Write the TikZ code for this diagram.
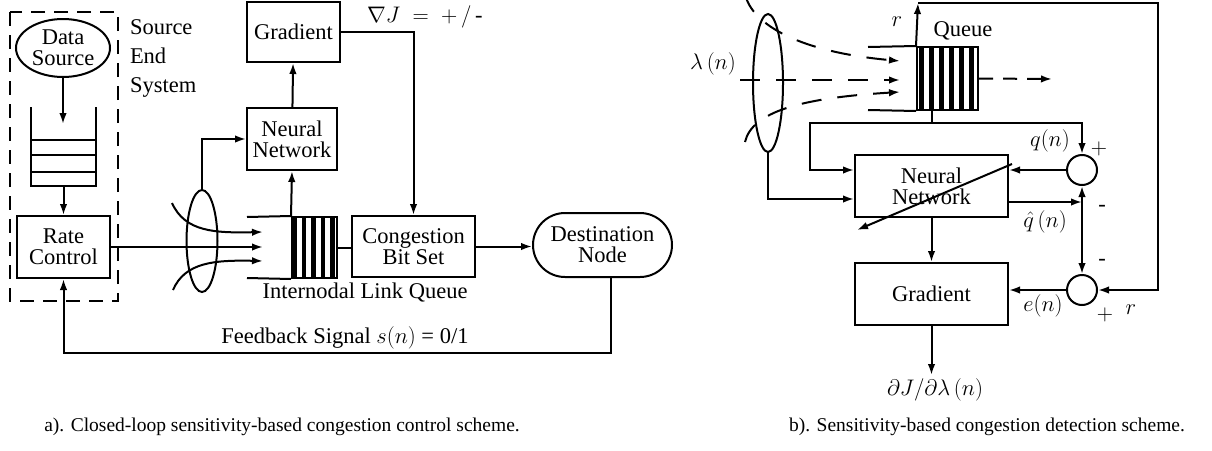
\RequirePackage{fix-cm}
\documentclass[tikz,border=0pt]{standalone}
\usepackage{fontspec}
\setmainfont{Liberation Serif}
\usetikzlibrary{arrows.meta,shapes.geometric,shapes.misc,calc}
\newcommand\lblfont{\fontsize{22.5}{21}\selectfont}
\newcommand\capfont{\fontsize{19.5}{22}\selectfont}
\begin{document}
\begin{tikzpicture}[x=1pt,y=-1pt,line width=2pt,>={Latex[length=11pt,width=7.5pt]},
 box/.style={draw,rectangle,inner sep=0pt,align=center,font=\lblfont},
 txt/.style={inner sep=0pt,font=\lblfont},
 bar/.style={line width=4.4pt},
 dsh/.style={dash pattern=on 20pt off 16pt}]
\useasboundingbox (0,0) rectangle (1212,450);

% ---------------- panel a ----------------
\draw[line width=2.4pt,dash pattern=on 14pt off 9pt] (10,12) rectangle (118,301);
\node[txt,align=left,font=\fontsize{22.5}{29}\selectfont,anchor=north west] (ses) at (129,19) {Source\\End\\System};
\node[draw,ellipse,inner sep=0pt,minimum width=94,minimum height=58,align=center,font=\lblfont] (ds) at (63,48) {Data\\Source};
% source queue
\node[inner sep=0pt,minimum width=63,minimum height=77] (sq) at (63.5,146.5) {};
\draw[line width=2.6pt] (sq.north west) -- (sq.south west) -- (sq.south east) -- (sq.north east);
\foreach \yy in {140,155,172} \draw[line width=2.6pt] (32,\yy) -- (95,\yy);
\coordinate (sqin) at (63,124);
\draw[->] (ds.south) -- (ds.south |- sqin);
\node[box,minimum width=93,minimum height=62] (rc) at (63.5,247) {Rate\\Control};
\draw[->] (sq.south) -- (rc.north);

% link queue
\node[draw,inner sep=0pt,minimum width=45,minimum height=61] (lq) at (314.5,247.5) {};
\foreach \xx in {294.5,304,313.5,323,332.5} \draw[bar] (\xx,217) -- (\xx,278);
\coordinate (lqtl) at (247,217);
\coordinate (lqbl) at (247,278);
\draw (lqtl) -- (lq.north west);
\draw (lqbl) -- (lq.south west);
\node[txt] (lql) at (365,293) {Internodal Link Queue};

% incoming flows
\coordinate (in1) at (263,232);
\coordinate (in2) at (263,247);
\coordinate (in3) at (263,261);
\coordinate (f1) at (172,203);
\coordinate (f3) at (173,290);
\draw[->] (rc.east) -- (in2);
\draw[->] (f1) .. controls (185,232) and (215,233) .. (in1);
\draw[->] (f3) .. controls (185,262) and (215,260) .. (in3);
\node[draw,ellipse,inner sep=0pt,minimum width=31,minimum height=102] (e1) at (202,241) {};

\node[box,minimum width=90,minimum height=62] (nn1) at (292,139) {Neural\\Network};
\node[box,minimum width=93,minimum height=60] (gr1) at (293.5,32) {Gradient};
\draw[->] (e1.north) |- (nn1.west);
\draw[->] (lq.north west) -- (nn1.south);
\draw[->] (nn1) -- (gr1);

\node[box,minimum width=123,minimum height=61] (cb) at (413.5,246.5) {Congestion\\Bit Set};
\draw (lq.east) -- (lq.east -| cb.west);
\draw[->] (gr1.east) -| (cb.north);
\node[txt,anchor=west] (gl) at (366,17) {$\nabla J\;=\;+\,/\,\mbox{-}$};

\node[draw,rounded rectangle,inner sep=0pt,minimum width=139,minimum height=64,align=center,font=\lblfont] (dn) at (602.5,245) {Destination\\Node};
\draw[->] (cb.east) -- (cb.east -| dn.west);
\coordinate (dnb) at ($(dn.south)+(8,0)$);
\coordinate (fb) at (63.5,353);
\draw[->] (dnb) |- (fb) -- (rc.south);
\node[txt] (fbl) at (345,338) {Feedback Signal $s(n)$ = 0/1};

\node[txt,font=\capfont] (capa) at (282,427) {a). Closed-loop sensitivity-based congestion control scheme.};

% ---------------- panel b ----------------
\node[draw,inner sep=0pt,minimum width=61,minimum height=63] (qb) at (947.5,78.5) {};
\foreach \xx in {921.5,931.5,941.5,951.5,961.5,971.5} \draw[bar] (\xx,47) -- (\xx,110);
\coordinate (qbtl) at (868,47);
\coordinate (qbbl) at (868,110);
\draw (qbtl) -- (qb.north west);
\draw (qbbl) -- (qb.south west);
\node[txt] (ql) at (963,31) {Queue};
\coordinate (qout) at (1052,79);
\draw[->,dash pattern=on 14pt off 10pt] (qb.east) -- (qout);

\node[draw,ellipse,inner sep=0pt,minimum width=30,minimum height=138] (e2) at (768,83) {};
\node[txt] (lam) at (713,64) {$\lambda\,(n)$};
\coordinate (d1s) at (745,-6);
\coordinate (d2s) at (740,80);
\coordinate (d3s) at (745,142);
\coordinate (q1) at (900,61);
\coordinate (q2) at (900,80);
\coordinate (q3) at (900,92);
\draw[->,dsh] (d1s) .. controls (752,25) and (800,52) .. (q1);
\draw[->,dsh] (d2s) -- (q2);
\draw[->,dsh] (d3s) .. controls (752,112) and (800,98) .. (q3);

% r loop
\coordinate (rtop) at (918,3);
\coordinate (rright) at (1158,3);
\draw[->] (qb.north west) -- (rtop);
\node[txt] (rl1) at (897,22) {$r$};

\node[box,minimum width=153,minimum height=62] (nn2) at (931.5,186) {Neural\\Network};
\node[box,minimum width=153,minimum height=62] (gr2) at (931.5,294) {Gradient};
\node[draw,circle,inner sep=0pt,minimum size=30] (c1) at (1082,170) {};
\node[draw,circle,inner sep=0pt,minimum size=30] (c2) at (1082,290) {};
\draw[->] (rtop) -- (rright) |- (c2.east);

% queue output to NN and to c1
\coordinate (qd) at (932,123);
\coordinate (qdl) at (810,123);
\draw (qb.south west -| qd) -- (qd);
\draw[->] (qd) -- (qdl) |- ($(nn2.west)+(0,-16)$);
\draw[->] (qd) -| (c1.north);
\draw[->] (e2.south) |- ($(nn2.west)+(0,13)$);

\draw[->] (c1.west) -- (c1.west -| nn2.east);
\coordinate (jq) at (1082,202);
\draw[->] (nn2.east |- jq) -- (jq);
\draw[->] (jq) -- (c1.south);
\draw[->] (jq) -- (c2.north);
\draw[->] (c2.west) -- (c2.west -| gr2.east);
\draw[->] (nn2) -- (gr2);
\coordinate (out) at (931.5,375);
\draw[->] (gr2.south) -- (out);

\coordinate (dg1) at (1012,164);
\coordinate (dg2) at (857,230);
\draw[->] (dg1) -- (dg2);

\node[txt] (lq1) at (1050,141) {$q(n)$};
\node[txt] (lp1) at (1099,149) {$+$};
\node[txt] (lqh) at (1045,222) {$\hat{q}\,(n)$};
\node[txt] (lm1) at (1102,208) {-};
\node[txt] (lm2) at (1102,262) {-};
\node[txt] (le) at (1043,306) {$e(n)$};
\node[txt] (lp2) at (1105,315) {$+$};
\node[txt] (rl2) at (1131,310) {$r$};
\node[txt] (ld) at (935,390) {$\partial J/\partial\lambda\,(n)$};

\node[txt,font=\capfont] (capb) at (987,427) {b). Sensitivity-based congestion detection scheme.};
\end{tikzpicture}
\end{document}
